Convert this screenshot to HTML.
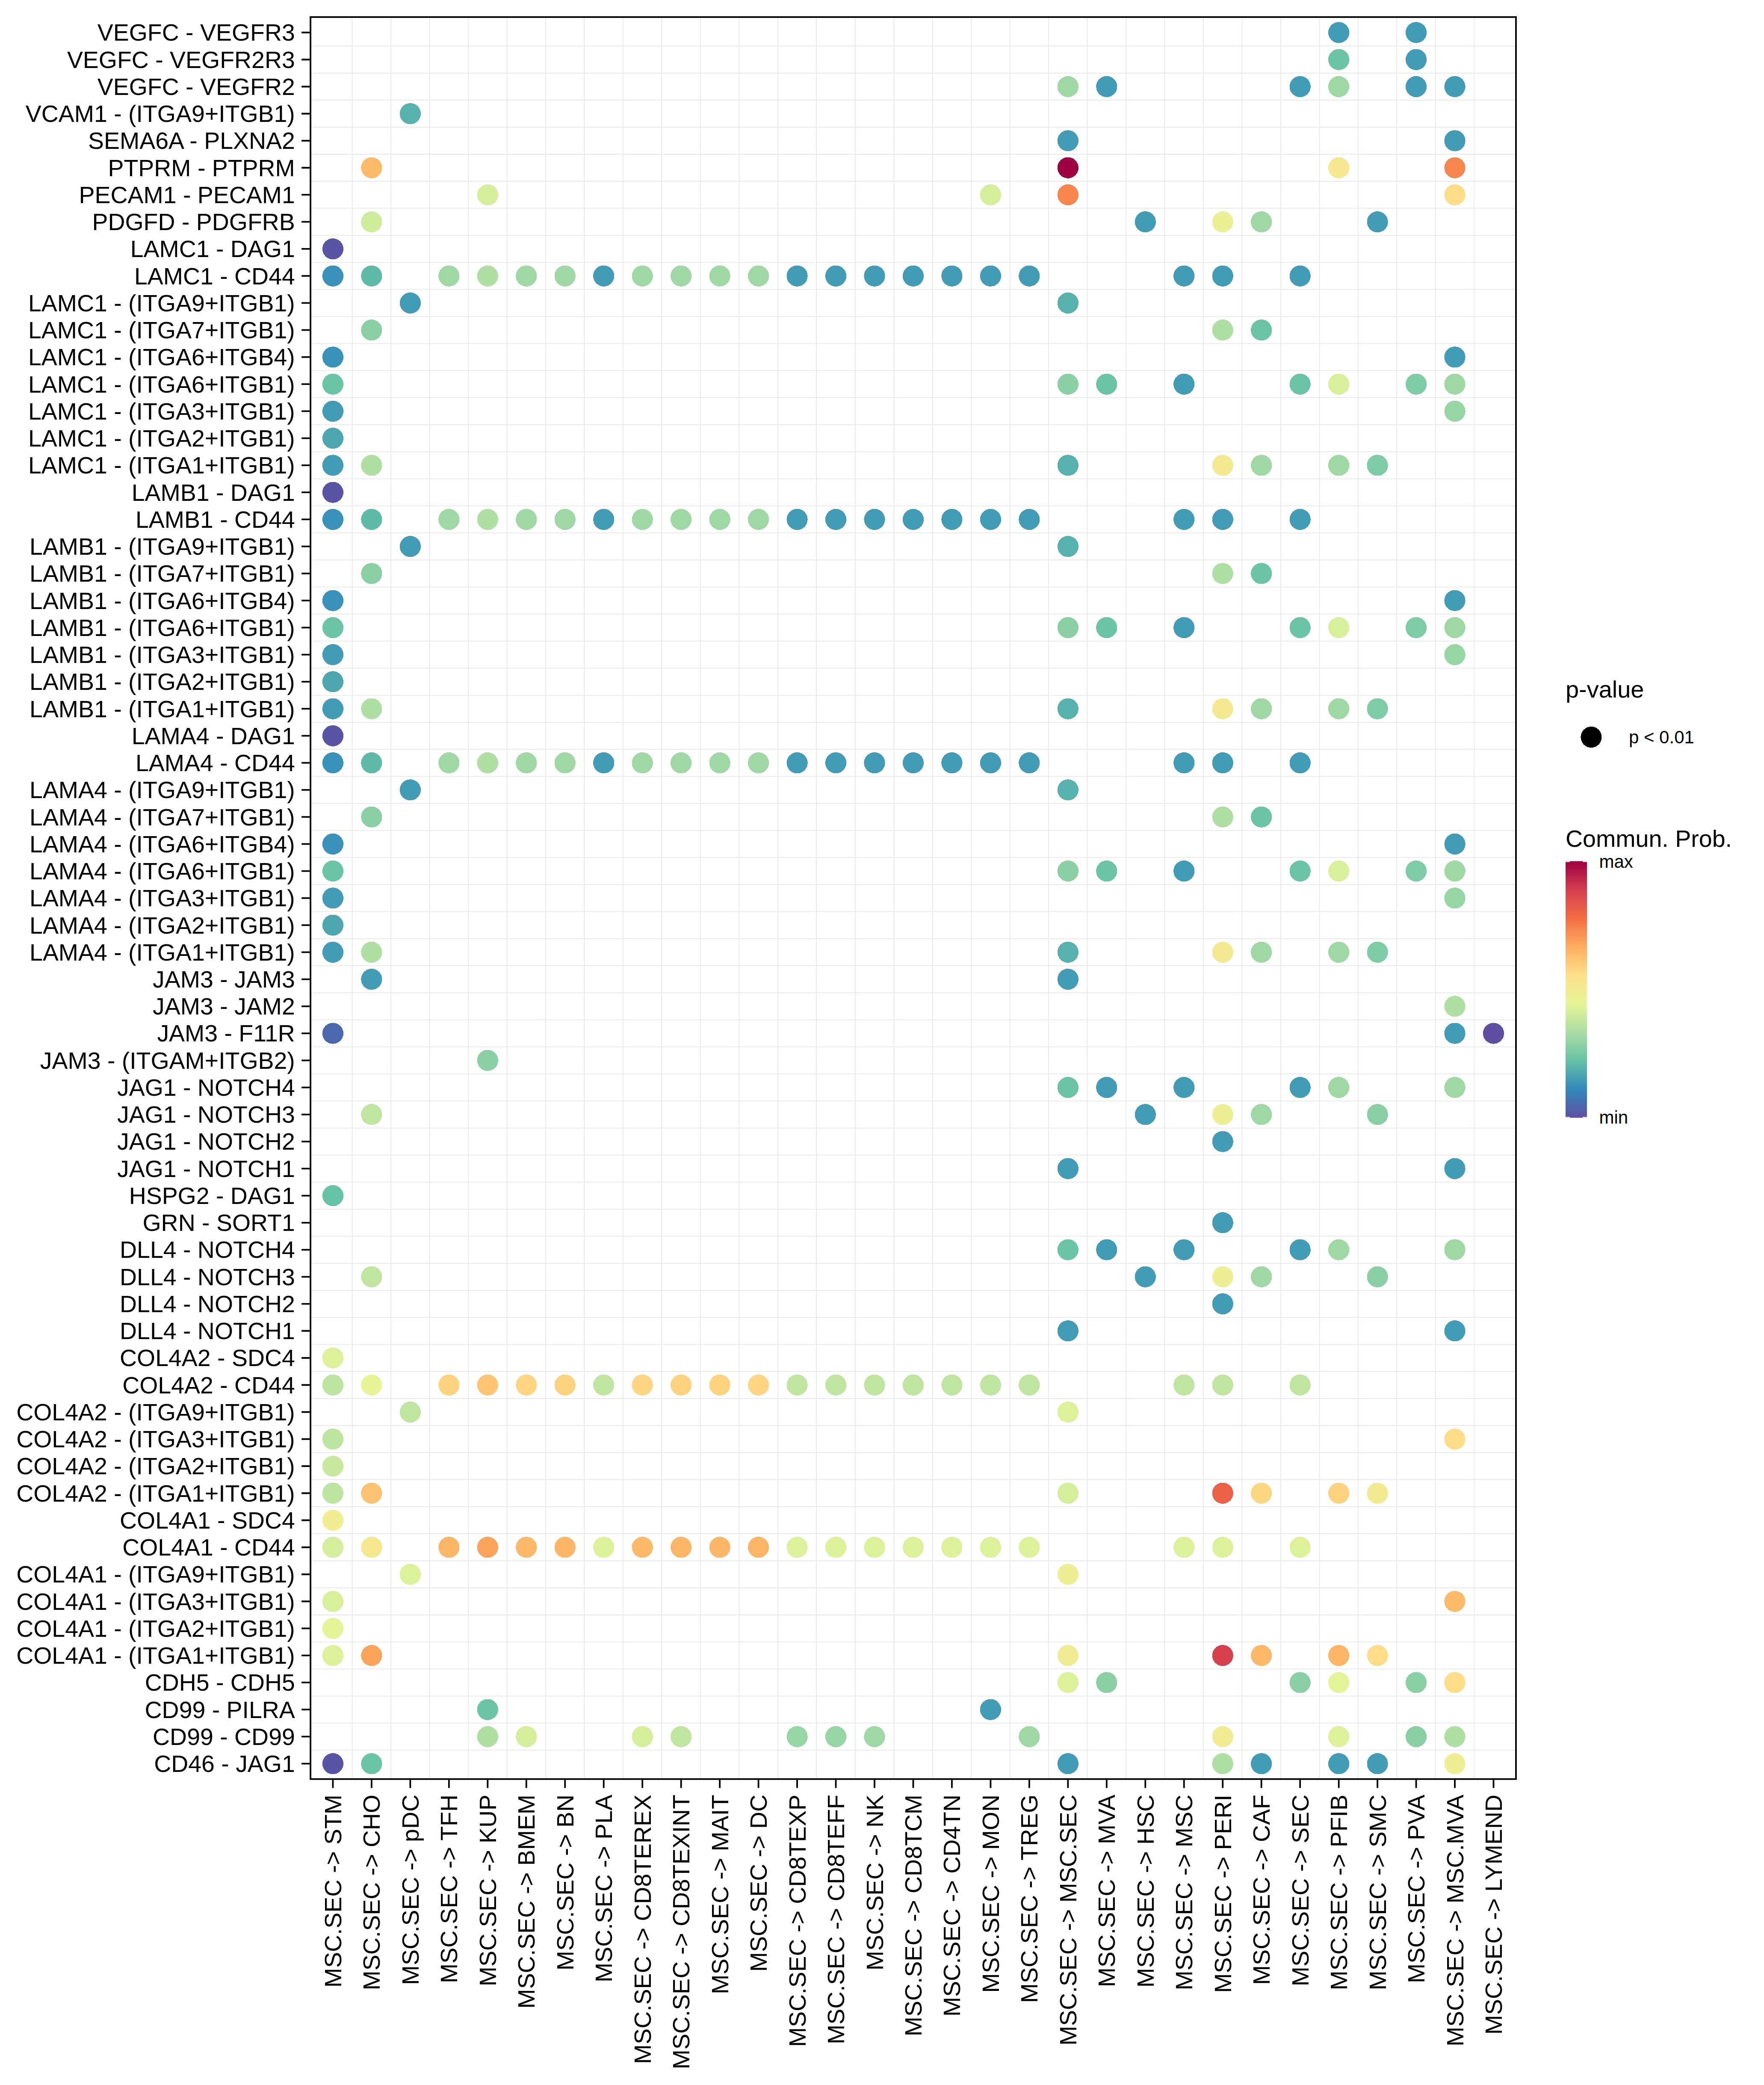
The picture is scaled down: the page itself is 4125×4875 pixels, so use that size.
<!DOCTYPE html>
<html><head><meta charset="utf-8"><title>Bubble plot</title>
<style>html,body{margin:0;padding:0;background:#fff}svg{display:block}text{font-family:"Liberation Sans",Arial,Helvetica,sans-serif;fill:#000}</style></head><body>
<svg width="4125" height="4875" viewBox="0 0 4125 4875">
<rect x="0" y="0" width="4125" height="4875" fill="#fff"/>
<path d="M823.68 39.9V4159.7M914.15 39.9V4159.7M1004.62 39.9V4159.7M1095.09 39.9V4159.7M1185.56 39.9V4159.7M1276.03 39.9V4159.7M1366.49 39.9V4159.7M1456.96 39.9V4159.7M1547.43 39.9V4159.7M1637.90 39.9V4159.7M1728.37 39.9V4159.7M1818.84 39.9V4159.7M1909.30 39.9V4159.7M1999.77 39.9V4159.7M2090.24 39.9V4159.7M2180.71 39.9V4159.7M2271.18 39.9V4159.7M2361.65 39.9V4159.7M2452.11 39.9V4159.7M2542.58 39.9V4159.7M2633.05 39.9V4159.7M2723.52 39.9V4159.7M2813.99 39.9V4159.7M2904.46 39.9V4159.7M2994.92 39.9V4159.7M3085.39 39.9V4159.7M3175.86 39.9V4159.7M3266.33 39.9V4159.7M3356.80 39.9V4159.7M3447.27 39.9V4159.7M726.1 107.62H3545.0M726.1 170.87H3545.0M726.1 234.11H3545.0M726.1 297.36H3545.0M726.1 360.60H3545.0M726.1 423.85H3545.0M726.1 487.09H3545.0M726.1 550.34H3545.0M726.1 613.59H3545.0M726.1 676.83H3545.0M726.1 740.08H3545.0M726.1 803.32H3545.0M726.1 866.57H3545.0M726.1 929.81H3545.0M726.1 993.06H3545.0M726.1 1056.30H3545.0M726.1 1119.55H3545.0M726.1 1182.79H3545.0M726.1 1246.04H3545.0M726.1 1309.28H3545.0M726.1 1372.53H3545.0M726.1 1435.77H3545.0M726.1 1499.02H3545.0M726.1 1562.26H3545.0M726.1 1625.51H3545.0M726.1 1688.76H3545.0M726.1 1752.00H3545.0M726.1 1815.25H3545.0M726.1 1878.49H3545.0M726.1 1941.74H3545.0M726.1 2004.98H3545.0M726.1 2068.23H3545.0M726.1 2131.47H3545.0M726.1 2194.72H3545.0M726.1 2257.96H3545.0M726.1 2321.21H3545.0M726.1 2384.45H3545.0M726.1 2447.70H3545.0M726.1 2510.94H3545.0M726.1 2574.19H3545.0M726.1 2637.44H3545.0M726.1 2700.68H3545.0M726.1 2763.93H3545.0M726.1 2827.17H3545.0M726.1 2890.42H3545.0M726.1 2953.66H3545.0M726.1 3016.91H3545.0M726.1 3080.15H3545.0M726.1 3143.40H3545.0M726.1 3206.64H3545.0M726.1 3269.89H3545.0M726.1 3333.13H3545.0M726.1 3396.38H3545.0M726.1 3459.62H3545.0M726.1 3522.87H3545.0M726.1 3586.11H3545.0M726.1 3649.36H3545.0M726.1 3712.61H3545.0M726.1 3775.85H3545.0M726.1 3839.10H3545.0M726.1 3902.34H3545.0M726.1 3965.59H3545.0M726.1 4028.83H3545.0M726.1 4092.08H3545.0" stroke="#E5E5E5" stroke-width="1.55" fill="none"/>
<g shape-rendering="crispEdges">
<circle cx="3130.63" cy="76.00" r="24.6" fill="#439CB5"/>
<circle cx="3311.56" cy="76.00" r="24.6" fill="#439CB5"/>
<circle cx="3130.63" cy="139.25" r="24.6" fill="#6BC4A5"/>
<circle cx="3311.56" cy="139.25" r="24.6" fill="#439CB5"/>
<circle cx="2497.35" cy="202.49" r="24.6" fill="#9FD8A4"/>
<circle cx="2587.82" cy="202.49" r="24.6" fill="#439CB5"/>
<circle cx="3040.16" cy="202.49" r="24.6" fill="#439CB5"/>
<circle cx="3130.63" cy="202.49" r="24.6" fill="#9FD8A4"/>
<circle cx="3311.56" cy="202.49" r="24.6" fill="#439CB5"/>
<circle cx="3402.03" cy="202.49" r="24.6" fill="#439CB5"/>
<circle cx="959.39" cy="265.74" r="24.6" fill="#57B1AC"/>
<circle cx="2497.35" cy="328.98" r="24.6" fill="#439CB5"/>
<circle cx="3402.03" cy="328.98" r="24.6" fill="#439CB5"/>
<circle cx="868.92" cy="392.23" r="24.6" fill="#FDBA6B"/>
<circle cx="2497.35" cy="392.23" r="24.6" fill="#9E0142"/>
<circle cx="3130.63" cy="392.23" r="24.6" fill="#F6E790"/>
<circle cx="3402.03" cy="392.23" r="24.6" fill="#F8874F"/>
<circle cx="1140.32" cy="455.47" r="24.6" fill="#D5EE9C"/>
<circle cx="2316.41" cy="455.47" r="24.6" fill="#D5EE9C"/>
<circle cx="2497.35" cy="455.47" r="24.6" fill="#F8874F"/>
<circle cx="3402.03" cy="455.47" r="24.6" fill="#FEDC88"/>
<circle cx="868.92" cy="518.72" r="24.6" fill="#CFEC9D"/>
<circle cx="2678.28" cy="518.72" r="24.6" fill="#439CB5"/>
<circle cx="2859.22" cy="518.72" r="24.6" fill="#ECF095"/>
<circle cx="2949.69" cy="518.72" r="24.6" fill="#9FD8A4"/>
<circle cx="3221.10" cy="518.72" r="24.6" fill="#439CB5"/>
<circle cx="778.45" cy="581.96" r="24.6" fill="#5A54A4"/>
<circle cx="778.45" cy="645.21" r="24.6" fill="#3A91B9"/>
<circle cx="868.92" cy="645.21" r="24.6" fill="#5FBBA8"/>
<circle cx="1049.86" cy="645.21" r="24.6" fill="#9FD8A4"/>
<circle cx="1140.32" cy="645.21" r="24.6" fill="#B0DFA3"/>
<circle cx="1230.79" cy="645.21" r="24.6" fill="#9FD8A4"/>
<circle cx="1321.26" cy="645.21" r="24.6" fill="#9FD8A4"/>
<circle cx="1411.73" cy="645.21" r="24.6" fill="#439CB5"/>
<circle cx="1502.20" cy="645.21" r="24.6" fill="#9FD8A4"/>
<circle cx="1592.66" cy="645.21" r="24.6" fill="#9FD8A4"/>
<circle cx="1683.13" cy="645.21" r="24.6" fill="#9FD8A4"/>
<circle cx="1773.60" cy="645.21" r="24.6" fill="#9FD8A4"/>
<circle cx="1864.07" cy="645.21" r="24.6" fill="#439CB5"/>
<circle cx="1954.54" cy="645.21" r="24.6" fill="#439CB5"/>
<circle cx="2045.01" cy="645.21" r="24.6" fill="#439CB5"/>
<circle cx="2135.48" cy="645.21" r="24.6" fill="#439CB5"/>
<circle cx="2225.94" cy="645.21" r="24.6" fill="#439CB5"/>
<circle cx="2316.41" cy="645.21" r="24.6" fill="#439CB5"/>
<circle cx="2406.88" cy="645.21" r="24.6" fill="#439CB5"/>
<circle cx="2768.75" cy="645.21" r="24.6" fill="#439CB5"/>
<circle cx="2859.22" cy="645.21" r="24.6" fill="#439CB5"/>
<circle cx="3040.16" cy="645.21" r="24.6" fill="#439CB5"/>
<circle cx="959.39" cy="708.45" r="24.6" fill="#439CB5"/>
<circle cx="2497.35" cy="708.45" r="24.6" fill="#57B1AC"/>
<circle cx="868.92" cy="771.70" r="24.6" fill="#8AD0A4"/>
<circle cx="2859.22" cy="771.70" r="24.6" fill="#B0DFA3"/>
<circle cx="2949.69" cy="771.70" r="24.6" fill="#6BC4A5"/>
<circle cx="778.45" cy="834.94" r="24.6" fill="#3A91B9"/>
<circle cx="3402.03" cy="834.94" r="24.6" fill="#439CB5"/>
<circle cx="778.45" cy="898.19" r="24.6" fill="#6BC4A5"/>
<circle cx="2497.35" cy="898.19" r="24.6" fill="#8AD0A4"/>
<circle cx="2587.82" cy="898.19" r="24.6" fill="#6BC4A5"/>
<circle cx="2768.75" cy="898.19" r="24.6" fill="#439CB5"/>
<circle cx="3040.16" cy="898.19" r="24.6" fill="#6BC4A5"/>
<circle cx="3130.63" cy="898.19" r="24.6" fill="#D8F09B"/>
<circle cx="3311.56" cy="898.19" r="24.6" fill="#7ECCA5"/>
<circle cx="3402.03" cy="898.19" r="24.6" fill="#9FD8A4"/>
<circle cx="778.45" cy="961.43" r="24.6" fill="#439CB5"/>
<circle cx="3402.03" cy="961.43" r="24.6" fill="#96D5A4"/>
<circle cx="778.45" cy="1024.68" r="24.6" fill="#4DA6B0"/>
<circle cx="778.45" cy="1087.92" r="24.6" fill="#439CB5"/>
<circle cx="868.92" cy="1087.92" r="24.6" fill="#B0DFA3"/>
<circle cx="2497.35" cy="1087.92" r="24.6" fill="#57B1AC"/>
<circle cx="2859.22" cy="1087.92" r="24.6" fill="#F4E890"/>
<circle cx="2949.69" cy="1087.92" r="24.6" fill="#9FD8A4"/>
<circle cx="3130.63" cy="1087.92" r="24.6" fill="#9FD8A4"/>
<circle cx="3221.10" cy="1087.92" r="24.6" fill="#7ECCA5"/>
<circle cx="778.45" cy="1151.17" r="24.6" fill="#5A54A4"/>
<circle cx="778.45" cy="1214.42" r="24.6" fill="#3A91B9"/>
<circle cx="868.92" cy="1214.42" r="24.6" fill="#5FBBA8"/>
<circle cx="1049.86" cy="1214.42" r="24.6" fill="#9FD8A4"/>
<circle cx="1140.32" cy="1214.42" r="24.6" fill="#B0DFA3"/>
<circle cx="1230.79" cy="1214.42" r="24.6" fill="#9FD8A4"/>
<circle cx="1321.26" cy="1214.42" r="24.6" fill="#9FD8A4"/>
<circle cx="1411.73" cy="1214.42" r="24.6" fill="#439CB5"/>
<circle cx="1502.20" cy="1214.42" r="24.6" fill="#9FD8A4"/>
<circle cx="1592.66" cy="1214.42" r="24.6" fill="#9FD8A4"/>
<circle cx="1683.13" cy="1214.42" r="24.6" fill="#9FD8A4"/>
<circle cx="1773.60" cy="1214.42" r="24.6" fill="#9FD8A4"/>
<circle cx="1864.07" cy="1214.42" r="24.6" fill="#439CB5"/>
<circle cx="1954.54" cy="1214.42" r="24.6" fill="#439CB5"/>
<circle cx="2045.01" cy="1214.42" r="24.6" fill="#439CB5"/>
<circle cx="2135.48" cy="1214.42" r="24.6" fill="#439CB5"/>
<circle cx="2225.94" cy="1214.42" r="24.6" fill="#439CB5"/>
<circle cx="2316.41" cy="1214.42" r="24.6" fill="#439CB5"/>
<circle cx="2406.88" cy="1214.42" r="24.6" fill="#439CB5"/>
<circle cx="2768.75" cy="1214.42" r="24.6" fill="#439CB5"/>
<circle cx="2859.22" cy="1214.42" r="24.6" fill="#439CB5"/>
<circle cx="3040.16" cy="1214.42" r="24.6" fill="#439CB5"/>
<circle cx="959.39" cy="1277.66" r="24.6" fill="#439CB5"/>
<circle cx="2497.35" cy="1277.66" r="24.6" fill="#57B1AC"/>
<circle cx="868.92" cy="1340.91" r="24.6" fill="#8AD0A4"/>
<circle cx="2859.22" cy="1340.91" r="24.6" fill="#B0DFA3"/>
<circle cx="2949.69" cy="1340.91" r="24.6" fill="#6BC4A5"/>
<circle cx="778.45" cy="1404.15" r="24.6" fill="#3A91B9"/>
<circle cx="3402.03" cy="1404.15" r="24.6" fill="#439CB5"/>
<circle cx="778.45" cy="1467.40" r="24.6" fill="#6BC4A5"/>
<circle cx="2497.35" cy="1467.40" r="24.6" fill="#8AD0A4"/>
<circle cx="2587.82" cy="1467.40" r="24.6" fill="#6BC4A5"/>
<circle cx="2768.75" cy="1467.40" r="24.6" fill="#439CB5"/>
<circle cx="3040.16" cy="1467.40" r="24.6" fill="#6BC4A5"/>
<circle cx="3130.63" cy="1467.40" r="24.6" fill="#D8F09B"/>
<circle cx="3311.56" cy="1467.40" r="24.6" fill="#7ECCA5"/>
<circle cx="3402.03" cy="1467.40" r="24.6" fill="#9FD8A4"/>
<circle cx="778.45" cy="1530.64" r="24.6" fill="#439CB5"/>
<circle cx="3402.03" cy="1530.64" r="24.6" fill="#96D5A4"/>
<circle cx="778.45" cy="1593.89" r="24.6" fill="#4DA6B0"/>
<circle cx="778.45" cy="1657.13" r="24.6" fill="#439CB5"/>
<circle cx="868.92" cy="1657.13" r="24.6" fill="#B0DFA3"/>
<circle cx="2497.35" cy="1657.13" r="24.6" fill="#57B1AC"/>
<circle cx="2859.22" cy="1657.13" r="24.6" fill="#F4E890"/>
<circle cx="2949.69" cy="1657.13" r="24.6" fill="#9FD8A4"/>
<circle cx="3130.63" cy="1657.13" r="24.6" fill="#9FD8A4"/>
<circle cx="3221.10" cy="1657.13" r="24.6" fill="#7ECCA5"/>
<circle cx="778.45" cy="1720.38" r="24.6" fill="#5A54A4"/>
<circle cx="778.45" cy="1783.62" r="24.6" fill="#3A91B9"/>
<circle cx="868.92" cy="1783.62" r="24.6" fill="#5FBBA8"/>
<circle cx="1049.86" cy="1783.62" r="24.6" fill="#9FD8A4"/>
<circle cx="1140.32" cy="1783.62" r="24.6" fill="#B0DFA3"/>
<circle cx="1230.79" cy="1783.62" r="24.6" fill="#9FD8A4"/>
<circle cx="1321.26" cy="1783.62" r="24.6" fill="#9FD8A4"/>
<circle cx="1411.73" cy="1783.62" r="24.6" fill="#439CB5"/>
<circle cx="1502.20" cy="1783.62" r="24.6" fill="#9FD8A4"/>
<circle cx="1592.66" cy="1783.62" r="24.6" fill="#9FD8A4"/>
<circle cx="1683.13" cy="1783.62" r="24.6" fill="#9FD8A4"/>
<circle cx="1773.60" cy="1783.62" r="24.6" fill="#9FD8A4"/>
<circle cx="1864.07" cy="1783.62" r="24.6" fill="#439CB5"/>
<circle cx="1954.54" cy="1783.62" r="24.6" fill="#439CB5"/>
<circle cx="2045.01" cy="1783.62" r="24.6" fill="#439CB5"/>
<circle cx="2135.48" cy="1783.62" r="24.6" fill="#439CB5"/>
<circle cx="2225.94" cy="1783.62" r="24.6" fill="#439CB5"/>
<circle cx="2316.41" cy="1783.62" r="24.6" fill="#439CB5"/>
<circle cx="2406.88" cy="1783.62" r="24.6" fill="#439CB5"/>
<circle cx="2768.75" cy="1783.62" r="24.6" fill="#439CB5"/>
<circle cx="2859.22" cy="1783.62" r="24.6" fill="#439CB5"/>
<circle cx="3040.16" cy="1783.62" r="24.6" fill="#439CB5"/>
<circle cx="959.39" cy="1846.87" r="24.6" fill="#439CB5"/>
<circle cx="2497.35" cy="1846.87" r="24.6" fill="#57B1AC"/>
<circle cx="868.92" cy="1910.11" r="24.6" fill="#8AD0A4"/>
<circle cx="2859.22" cy="1910.11" r="24.6" fill="#B0DFA3"/>
<circle cx="2949.69" cy="1910.11" r="24.6" fill="#6BC4A5"/>
<circle cx="778.45" cy="1973.36" r="24.6" fill="#3A91B9"/>
<circle cx="3402.03" cy="1973.36" r="24.6" fill="#439CB5"/>
<circle cx="778.45" cy="2036.60" r="24.6" fill="#6BC4A5"/>
<circle cx="2497.35" cy="2036.60" r="24.6" fill="#8AD0A4"/>
<circle cx="2587.82" cy="2036.60" r="24.6" fill="#6BC4A5"/>
<circle cx="2768.75" cy="2036.60" r="24.6" fill="#439CB5"/>
<circle cx="3040.16" cy="2036.60" r="24.6" fill="#6BC4A5"/>
<circle cx="3130.63" cy="2036.60" r="24.6" fill="#D8F09B"/>
<circle cx="3311.56" cy="2036.60" r="24.6" fill="#7ECCA5"/>
<circle cx="3402.03" cy="2036.60" r="24.6" fill="#9FD8A4"/>
<circle cx="778.45" cy="2099.85" r="24.6" fill="#439CB5"/>
<circle cx="3402.03" cy="2099.85" r="24.6" fill="#96D5A4"/>
<circle cx="778.45" cy="2163.10" r="24.6" fill="#4DA6B0"/>
<circle cx="778.45" cy="2226.34" r="24.6" fill="#439CB5"/>
<circle cx="868.92" cy="2226.34" r="24.6" fill="#B0DFA3"/>
<circle cx="2497.35" cy="2226.34" r="24.6" fill="#57B1AC"/>
<circle cx="2859.22" cy="2226.34" r="24.6" fill="#F4E890"/>
<circle cx="2949.69" cy="2226.34" r="24.6" fill="#9FD8A4"/>
<circle cx="3130.63" cy="2226.34" r="24.6" fill="#9FD8A4"/>
<circle cx="3221.10" cy="2226.34" r="24.6" fill="#7ECCA5"/>
<circle cx="868.92" cy="2289.59" r="24.6" fill="#439CB5"/>
<circle cx="2497.35" cy="2289.59" r="24.6" fill="#439CB5"/>
<circle cx="3402.03" cy="2352.83" r="24.6" fill="#B0DFA3"/>
<circle cx="778.45" cy="2416.08" r="24.6" fill="#4B67AE"/>
<circle cx="3402.03" cy="2416.08" r="24.6" fill="#439CB5"/>
<circle cx="3492.50" cy="2416.08" r="24.6" fill="#5E4FA2"/>
<circle cx="1140.32" cy="2479.32" r="24.6" fill="#8AD0A4"/>
<circle cx="2497.35" cy="2542.57" r="24.6" fill="#6BC4A5"/>
<circle cx="2587.82" cy="2542.57" r="24.6" fill="#439CB5"/>
<circle cx="2768.75" cy="2542.57" r="24.6" fill="#439CB5"/>
<circle cx="3040.16" cy="2542.57" r="24.6" fill="#439CB5"/>
<circle cx="3130.63" cy="2542.57" r="24.6" fill="#9FD8A4"/>
<circle cx="3402.03" cy="2542.57" r="24.6" fill="#9FD8A4"/>
<circle cx="868.92" cy="2605.81" r="24.6" fill="#C0E5A0"/>
<circle cx="2678.28" cy="2605.81" r="24.6" fill="#439CB5"/>
<circle cx="2859.22" cy="2605.81" r="24.6" fill="#EEEE94"/>
<circle cx="2949.69" cy="2605.81" r="24.6" fill="#9FD8A4"/>
<circle cx="3221.10" cy="2605.81" r="24.6" fill="#8AD0A4"/>
<circle cx="2859.22" cy="2669.06" r="24.6" fill="#439CB5"/>
<circle cx="2497.35" cy="2732.30" r="24.6" fill="#439CB5"/>
<circle cx="3402.03" cy="2732.30" r="24.6" fill="#439CB5"/>
<circle cx="778.45" cy="2795.55" r="24.6" fill="#67C3A5"/>
<circle cx="2859.22" cy="2858.79" r="24.6" fill="#439CB5"/>
<circle cx="2497.35" cy="2922.04" r="24.6" fill="#6BC4A5"/>
<circle cx="2587.82" cy="2922.04" r="24.6" fill="#439CB5"/>
<circle cx="2768.75" cy="2922.04" r="24.6" fill="#439CB5"/>
<circle cx="3040.16" cy="2922.04" r="24.6" fill="#439CB5"/>
<circle cx="3130.63" cy="2922.04" r="24.6" fill="#9FD8A4"/>
<circle cx="3402.03" cy="2922.04" r="24.6" fill="#9FD8A4"/>
<circle cx="868.92" cy="2985.28" r="24.6" fill="#C0E5A0"/>
<circle cx="2678.28" cy="2985.28" r="24.6" fill="#439CB5"/>
<circle cx="2859.22" cy="2985.28" r="24.6" fill="#EEEE94"/>
<circle cx="2949.69" cy="2985.28" r="24.6" fill="#9FD8A4"/>
<circle cx="3221.10" cy="2985.28" r="24.6" fill="#8AD0A4"/>
<circle cx="2859.22" cy="3048.53" r="24.6" fill="#439CB5"/>
<circle cx="2497.35" cy="3111.77" r="24.6" fill="#439CB5"/>
<circle cx="3402.03" cy="3111.77" r="24.6" fill="#439CB5"/>
<circle cx="778.45" cy="3175.02" r="24.6" fill="#DCF19A"/>
<circle cx="778.45" cy="3238.27" r="24.6" fill="#BDE4A0"/>
<circle cx="868.92" cy="3238.27" r="24.6" fill="#E7F498"/>
<circle cx="1049.86" cy="3238.27" r="24.6" fill="#FED380"/>
<circle cx="1140.32" cy="3238.27" r="24.6" fill="#FDC574"/>
<circle cx="1230.79" cy="3238.27" r="24.6" fill="#FED683"/>
<circle cx="1321.26" cy="3238.27" r="24.6" fill="#FED380"/>
<circle cx="1411.73" cy="3238.27" r="24.6" fill="#C0E5A0"/>
<circle cx="1502.20" cy="3238.27" r="24.6" fill="#FED683"/>
<circle cx="1592.66" cy="3238.27" r="24.6" fill="#FED380"/>
<circle cx="1683.13" cy="3238.27" r="24.6" fill="#FED380"/>
<circle cx="1773.60" cy="3238.27" r="24.6" fill="#FED683"/>
<circle cx="1864.07" cy="3238.27" r="24.6" fill="#C0E5A0"/>
<circle cx="1954.54" cy="3238.27" r="24.6" fill="#C0E5A0"/>
<circle cx="2045.01" cy="3238.27" r="24.6" fill="#C0E5A0"/>
<circle cx="2135.48" cy="3238.27" r="24.6" fill="#C0E5A0"/>
<circle cx="2225.94" cy="3238.27" r="24.6" fill="#C0E5A0"/>
<circle cx="2316.41" cy="3238.27" r="24.6" fill="#C0E5A0"/>
<circle cx="2406.88" cy="3238.27" r="24.6" fill="#C0E5A0"/>
<circle cx="2768.75" cy="3238.27" r="24.6" fill="#C0E5A0"/>
<circle cx="2859.22" cy="3238.27" r="24.6" fill="#C0E5A0"/>
<circle cx="3040.16" cy="3238.27" r="24.6" fill="#C0E5A0"/>
<circle cx="959.39" cy="3301.51" r="24.6" fill="#C0E5A0"/>
<circle cx="2497.35" cy="3301.51" r="24.6" fill="#DCF19A"/>
<circle cx="778.45" cy="3364.76" r="24.6" fill="#BDE4A0"/>
<circle cx="3402.03" cy="3364.76" r="24.6" fill="#FEDC88"/>
<circle cx="778.45" cy="3428.00" r="24.6" fill="#C9E99E"/>
<circle cx="778.45" cy="3491.25" r="24.6" fill="#BDE4A0"/>
<circle cx="868.92" cy="3491.25" r="24.6" fill="#FDC373"/>
<circle cx="2497.35" cy="3491.25" r="24.6" fill="#D5EE9C"/>
<circle cx="2859.22" cy="3491.25" r="24.6" fill="#EC6046"/>
<circle cx="2949.69" cy="3491.25" r="24.6" fill="#FED783"/>
<circle cx="3130.63" cy="3491.25" r="24.6" fill="#FED27F"/>
<circle cx="3221.10" cy="3491.25" r="24.6" fill="#F2EA91"/>
<circle cx="778.45" cy="3554.49" r="24.6" fill="#F0ED93"/>
<circle cx="778.45" cy="3617.74" r="24.6" fill="#D5EE9C"/>
<circle cx="868.92" cy="3617.74" r="24.6" fill="#F6E78F"/>
<circle cx="1049.86" cy="3617.74" r="24.6" fill="#FDB567"/>
<circle cx="1140.32" cy="3617.74" r="24.6" fill="#FCA45C"/>
<circle cx="1230.79" cy="3617.74" r="24.6" fill="#FDB869"/>
<circle cx="1321.26" cy="3617.74" r="24.6" fill="#FDB567"/>
<circle cx="1411.73" cy="3617.74" r="24.6" fill="#DCF19A"/>
<circle cx="1502.20" cy="3617.74" r="24.6" fill="#FDB869"/>
<circle cx="1592.66" cy="3617.74" r="24.6" fill="#FDB567"/>
<circle cx="1683.13" cy="3617.74" r="24.6" fill="#FDB567"/>
<circle cx="1773.60" cy="3617.74" r="24.6" fill="#FDB567"/>
<circle cx="1864.07" cy="3617.74" r="24.6" fill="#DCF19A"/>
<circle cx="1954.54" cy="3617.74" r="24.6" fill="#DCF19A"/>
<circle cx="2045.01" cy="3617.74" r="24.6" fill="#DCF19A"/>
<circle cx="2135.48" cy="3617.74" r="24.6" fill="#DCF19A"/>
<circle cx="2225.94" cy="3617.74" r="24.6" fill="#DCF19A"/>
<circle cx="2316.41" cy="3617.74" r="24.6" fill="#DCF19A"/>
<circle cx="2406.88" cy="3617.74" r="24.6" fill="#DCF19A"/>
<circle cx="2768.75" cy="3617.74" r="24.6" fill="#DCF19A"/>
<circle cx="2859.22" cy="3617.74" r="24.6" fill="#DCF19A"/>
<circle cx="3040.16" cy="3617.74" r="24.6" fill="#DCF19A"/>
<circle cx="959.39" cy="3680.98" r="24.6" fill="#DCF19A"/>
<circle cx="2497.35" cy="3680.98" r="24.6" fill="#EEEE94"/>
<circle cx="778.45" cy="3744.23" r="24.6" fill="#D8F09B"/>
<circle cx="3402.03" cy="3744.23" r="24.6" fill="#FDBA6B"/>
<circle cx="778.45" cy="3807.47" r="24.6" fill="#E5F498"/>
<circle cx="778.45" cy="3870.72" r="24.6" fill="#DCF19A"/>
<circle cx="868.92" cy="3870.72" r="24.6" fill="#FCA45C"/>
<circle cx="2497.35" cy="3870.72" r="24.6" fill="#F0EC93"/>
<circle cx="2859.22" cy="3870.72" r="24.6" fill="#D7414E"/>
<circle cx="2949.69" cy="3870.72" r="24.6" fill="#FDB869"/>
<circle cx="3130.63" cy="3870.72" r="24.6" fill="#FDB567"/>
<circle cx="3221.10" cy="3870.72" r="24.6" fill="#FEDC88"/>
<circle cx="2497.35" cy="3933.96" r="24.6" fill="#DCF19A"/>
<circle cx="2587.82" cy="3933.96" r="24.6" fill="#8AD0A4"/>
<circle cx="3040.16" cy="3933.96" r="24.6" fill="#8AD0A4"/>
<circle cx="3130.63" cy="3933.96" r="24.6" fill="#E4F498"/>
<circle cx="3311.56" cy="3933.96" r="24.6" fill="#8AD0A4"/>
<circle cx="3402.03" cy="3933.96" r="24.6" fill="#FEDC88"/>
<circle cx="1140.32" cy="3997.21" r="24.6" fill="#6BC4A5"/>
<circle cx="2316.41" cy="3997.21" r="24.6" fill="#439CB5"/>
<circle cx="1140.32" cy="4060.45" r="24.6" fill="#B0DFA3"/>
<circle cx="1230.79" cy="4060.45" r="24.6" fill="#D5EE9C"/>
<circle cx="1502.20" cy="4060.45" r="24.6" fill="#D5EE9C"/>
<circle cx="1592.66" cy="4060.45" r="24.6" fill="#C0E5A0"/>
<circle cx="1864.07" cy="4060.45" r="24.6" fill="#96D5A4"/>
<circle cx="1954.54" cy="4060.45" r="24.6" fill="#96D5A4"/>
<circle cx="2045.01" cy="4060.45" r="24.6" fill="#9FD8A4"/>
<circle cx="2406.88" cy="4060.45" r="24.6" fill="#9FD8A4"/>
<circle cx="2859.22" cy="4060.45" r="24.6" fill="#F0EC93"/>
<circle cx="3130.63" cy="4060.45" r="24.6" fill="#DCF19A"/>
<circle cx="3311.56" cy="4060.45" r="24.6" fill="#8AD0A4"/>
<circle cx="3402.03" cy="4060.45" r="24.6" fill="#B0DFA3"/>
<circle cx="778.45" cy="4123.70" r="24.6" fill="#5A54A4"/>
<circle cx="868.92" cy="4123.70" r="24.6" fill="#6BC4A5"/>
<circle cx="2497.35" cy="4123.70" r="24.6" fill="#439CB5"/>
<circle cx="2859.22" cy="4123.70" r="24.6" fill="#B0DFA3"/>
<circle cx="2949.69" cy="4123.70" r="24.6" fill="#439CB5"/>
<circle cx="3130.63" cy="4123.70" r="24.6" fill="#439CB5"/>
<circle cx="3221.10" cy="4123.70" r="24.6" fill="#439CB5"/>
<circle cx="3402.03" cy="4123.70" r="24.6" fill="#EEEE94"/>
</g>
<rect x="726.1" y="39.9" width="2818.9" height="4119.8" fill="none" stroke="#000" stroke-width="3.8"/>
<path d="M778.45 4161.6v19M868.92 4161.6v19M959.39 4161.6v19M1049.86 4161.6v19M1140.32 4161.6v19M1230.79 4161.6v19M1321.26 4161.6v19M1411.73 4161.6v19M1502.20 4161.6v19M1592.66 4161.6v19M1683.13 4161.6v19M1773.60 4161.6v19M1864.07 4161.6v19M1954.54 4161.6v19M2045.01 4161.6v19M2135.48 4161.6v19M2225.94 4161.6v19M2316.41 4161.6v19M2406.88 4161.6v19M2497.35 4161.6v19M2587.82 4161.6v19M2678.28 4161.6v19M2768.75 4161.6v19M2859.22 4161.6v19M2949.69 4161.6v19M3040.16 4161.6v19M3130.63 4161.6v19M3221.10 4161.6v19M3311.56 4161.6v19M3402.03 4161.6v19M3492.50 4161.6v19M724.2 76.00h-19M724.2 139.25h-19M724.2 202.49h-19M724.2 265.74h-19M724.2 328.98h-19M724.2 392.23h-19M724.2 455.47h-19M724.2 518.72h-19M724.2 581.96h-19M724.2 645.21h-19M724.2 708.45h-19M724.2 771.70h-19M724.2 834.94h-19M724.2 898.19h-19M724.2 961.43h-19M724.2 1024.68h-19M724.2 1087.92h-19M724.2 1151.17h-19M724.2 1214.42h-19M724.2 1277.66h-19M724.2 1340.91h-19M724.2 1404.15h-19M724.2 1467.40h-19M724.2 1530.64h-19M724.2 1593.89h-19M724.2 1657.13h-19M724.2 1720.38h-19M724.2 1783.62h-19M724.2 1846.87h-19M724.2 1910.11h-19M724.2 1973.36h-19M724.2 2036.60h-19M724.2 2099.85h-19M724.2 2163.10h-19M724.2 2226.34h-19M724.2 2289.59h-19M724.2 2352.83h-19M724.2 2416.08h-19M724.2 2479.32h-19M724.2 2542.57h-19M724.2 2605.81h-19M724.2 2669.06h-19M724.2 2732.30h-19M724.2 2795.55h-19M724.2 2858.79h-19M724.2 2922.04h-19M724.2 2985.28h-19M724.2 3048.53h-19M724.2 3111.77h-19M724.2 3175.02h-19M724.2 3238.27h-19M724.2 3301.51h-19M724.2 3364.76h-19M724.2 3428.00h-19M724.2 3491.25h-19M724.2 3554.49h-19M724.2 3617.74h-19M724.2 3680.98h-19M724.2 3744.23h-19M724.2 3807.47h-19M724.2 3870.72h-19M724.2 3933.96h-19M724.2 3997.21h-19M724.2 4060.45h-19M724.2 4123.70h-19" stroke="#000" stroke-width="3.8" fill="none"/>
<g font-size="55.45" text-anchor="end">
<text x="689.8" y="95.40">VEGFC - VEGFR3</text>
<text x="689.8" y="158.65">VEGFC - VEGFR2R3</text>
<text x="689.8" y="221.89">VEGFC - VEGFR2</text>
<text x="689.8" y="285.14">VCAM1 - (ITGA9+ITGB1)</text>
<text x="689.8" y="348.38">SEMA6A - PLXNA2</text>
<text x="689.8" y="411.63">PTPRM - PTPRM</text>
<text x="689.8" y="474.87">PECAM1 - PECAM1</text>
<text x="689.8" y="538.12">PDGFD - PDGFRB</text>
<text x="689.8" y="601.36">LAMC1 - DAG1</text>
<text x="689.8" y="664.61">LAMC1 - CD44</text>
<text x="689.8" y="727.85">LAMC1 - (ITGA9+ITGB1)</text>
<text x="689.8" y="791.10">LAMC1 - (ITGA7+ITGB1)</text>
<text x="689.8" y="854.34">LAMC1 - (ITGA6+ITGB4)</text>
<text x="689.8" y="917.59">LAMC1 - (ITGA6+ITGB1)</text>
<text x="689.8" y="980.83">LAMC1 - (ITGA3+ITGB1)</text>
<text x="689.8" y="1044.08">LAMC1 - (ITGA2+ITGB1)</text>
<text x="689.8" y="1107.33">LAMC1 - (ITGA1+ITGB1)</text>
<text x="689.8" y="1170.57">LAMB1 - DAG1</text>
<text x="689.8" y="1233.82">LAMB1 - CD44</text>
<text x="689.8" y="1297.06">LAMB1 - (ITGA9+ITGB1)</text>
<text x="689.8" y="1360.31">LAMB1 - (ITGA7+ITGB1)</text>
<text x="689.8" y="1423.55">LAMB1 - (ITGA6+ITGB4)</text>
<text x="689.8" y="1486.80">LAMB1 - (ITGA6+ITGB1)</text>
<text x="689.8" y="1550.04">LAMB1 - (ITGA3+ITGB1)</text>
<text x="689.8" y="1613.29">LAMB1 - (ITGA2+ITGB1)</text>
<text x="689.8" y="1676.53">LAMB1 - (ITGA1+ITGB1)</text>
<text x="689.8" y="1739.78">LAMA4 - DAG1</text>
<text x="689.8" y="1803.02">LAMA4 - CD44</text>
<text x="689.8" y="1866.27">LAMA4 - (ITGA9+ITGB1)</text>
<text x="689.8" y="1929.51">LAMA4 - (ITGA7+ITGB1)</text>
<text x="689.8" y="1992.76">LAMA4 - (ITGA6+ITGB4)</text>
<text x="689.8" y="2056.00">LAMA4 - (ITGA6+ITGB1)</text>
<text x="689.8" y="2119.25">LAMA4 - (ITGA3+ITGB1)</text>
<text x="689.8" y="2182.50">LAMA4 - (ITGA2+ITGB1)</text>
<text x="689.8" y="2245.74">LAMA4 - (ITGA1+ITGB1)</text>
<text x="689.8" y="2308.99">JAM3 - JAM3</text>
<text x="689.8" y="2372.23">JAM3 - JAM2</text>
<text x="689.8" y="2435.48">JAM3 - F11R</text>
<text x="689.8" y="2498.72">JAM3 - (ITGAM+ITGB2)</text>
<text x="689.8" y="2561.97">JAG1 - NOTCH4</text>
<text x="689.8" y="2625.21">JAG1 - NOTCH3</text>
<text x="689.8" y="2688.46">JAG1 - NOTCH2</text>
<text x="689.8" y="2751.70">JAG1 - NOTCH1</text>
<text x="689.8" y="2814.95">HSPG2 - DAG1</text>
<text x="689.8" y="2878.19">GRN - SORT1</text>
<text x="689.8" y="2941.44">DLL4 - NOTCH4</text>
<text x="689.8" y="3004.68">DLL4 - NOTCH3</text>
<text x="689.8" y="3067.93">DLL4 - NOTCH2</text>
<text x="689.8" y="3131.17">DLL4 - NOTCH1</text>
<text x="689.8" y="3194.42">COL4A2 - SDC4</text>
<text x="689.8" y="3257.67">COL4A2 - CD44</text>
<text x="689.8" y="3320.91">COL4A2 - (ITGA9+ITGB1)</text>
<text x="689.8" y="3384.16">COL4A2 - (ITGA3+ITGB1)</text>
<text x="689.8" y="3447.40">COL4A2 - (ITGA2+ITGB1)</text>
<text x="689.8" y="3510.65">COL4A2 - (ITGA1+ITGB1)</text>
<text x="689.8" y="3573.89">COL4A1 - SDC4</text>
<text x="689.8" y="3637.14">COL4A1 - CD44</text>
<text x="689.8" y="3700.38">COL4A1 - (ITGA9+ITGB1)</text>
<text x="689.8" y="3763.63">COL4A1 - (ITGA3+ITGB1)</text>
<text x="689.8" y="3826.87">COL4A1 - (ITGA2+ITGB1)</text>
<text x="689.8" y="3890.12">COL4A1 - (ITGA1+ITGB1)</text>
<text x="689.8" y="3953.36">CDH5 - CDH5</text>
<text x="689.8" y="4016.61">CD99 - PILRA</text>
<text x="689.8" y="4079.85">CD99 - CD99</text>
<text x="689.8" y="4143.10">CD46 - JAG1</text>
</g>
<g font-size="55.45" text-anchor="end">
<text transform="translate(797.95 4196.0) rotate(-90)">MSC.SEC -&gt; STM</text>
<text transform="translate(888.42 4196.0) rotate(-90)">MSC.SEC -&gt; CHO</text>
<text transform="translate(978.89 4196.0) rotate(-90)">MSC.SEC -&gt; pDC</text>
<text transform="translate(1069.36 4196.0) rotate(-90)">MSC.SEC -&gt; TFH</text>
<text transform="translate(1159.82 4196.0) rotate(-90)">MSC.SEC -&gt; KUP</text>
<text transform="translate(1250.29 4196.0) rotate(-90)">MSC.SEC -&gt; BMEM</text>
<text transform="translate(1340.76 4196.0) rotate(-90)">MSC.SEC -&gt; BN</text>
<text transform="translate(1431.23 4196.0) rotate(-90)">MSC.SEC -&gt; PLA</text>
<text transform="translate(1521.70 4196.0) rotate(-90)">MSC.SEC -&gt; CD8TEREX</text>
<text transform="translate(1612.16 4196.0) rotate(-90)">MSC.SEC -&gt; CD8TEXINT</text>
<text transform="translate(1702.63 4196.0) rotate(-90)">MSC.SEC -&gt; MAIT</text>
<text transform="translate(1793.10 4196.0) rotate(-90)">MSC.SEC -&gt; DC</text>
<text transform="translate(1883.57 4196.0) rotate(-90)">MSC.SEC -&gt; CD8TEXP</text>
<text transform="translate(1974.04 4196.0) rotate(-90)">MSC.SEC -&gt; CD8TEFF</text>
<text transform="translate(2064.51 4196.0) rotate(-90)">MSC.SEC -&gt; NK</text>
<text transform="translate(2154.98 4196.0) rotate(-90)">MSC.SEC -&gt; CD8TCM</text>
<text transform="translate(2245.44 4196.0) rotate(-90)">MSC.SEC -&gt; CD4TN</text>
<text transform="translate(2335.91 4196.0) rotate(-90)">MSC.SEC -&gt; MON</text>
<text transform="translate(2426.38 4196.0) rotate(-90)">MSC.SEC -&gt; TREG</text>
<text transform="translate(2516.85 4196.0) rotate(-90)">MSC.SEC -&gt; MSC.SEC</text>
<text transform="translate(2607.32 4196.0) rotate(-90)">MSC.SEC -&gt; MVA</text>
<text transform="translate(2697.78 4196.0) rotate(-90)">MSC.SEC -&gt; HSC</text>
<text transform="translate(2788.25 4196.0) rotate(-90)">MSC.SEC -&gt; MSC</text>
<text transform="translate(2878.72 4196.0) rotate(-90)">MSC.SEC -&gt; PERI</text>
<text transform="translate(2969.19 4196.0) rotate(-90)">MSC.SEC -&gt; CAF</text>
<text transform="translate(3059.66 4196.0) rotate(-90)">MSC.SEC -&gt; SEC</text>
<text transform="translate(3150.13 4196.0) rotate(-90)">MSC.SEC -&gt; PFIB</text>
<text transform="translate(3240.60 4196.0) rotate(-90)">MSC.SEC -&gt; SMC</text>
<text transform="translate(3331.06 4196.0) rotate(-90)">MSC.SEC -&gt; PVA</text>
<text transform="translate(3421.53 4196.0) rotate(-90)">MSC.SEC -&gt; MSC.MVA</text>
<text transform="translate(3512.00 4196.0) rotate(-90)">MSC.SEC -&gt; LYMEND</text>
</g>
<text x="3661" y="1630.9" font-size="55.95">p-value</text>
<circle cx="3721" cy="1723.5" r="24.6" fill="#000" shape-rendering="crispEdges"/>
<text x="3808.9" y="1738.2" font-size="42.0">p &lt; 0.01</text>
<text x="3661" y="1980.3" font-size="55.56">Commun. Prob.</text>
<defs><linearGradient id="sp" x1="0" y1="0" x2="0" y2="1"><stop offset="0.000%" stop-color="#9E0142"/><stop offset="11.111%" stop-color="#D53E4F"/><stop offset="22.222%" stop-color="#F46D43"/><stop offset="33.333%" stop-color="#FDAE61"/><stop offset="44.444%" stop-color="#FEE08B"/><stop offset="55.556%" stop-color="#E6F598"/><stop offset="66.667%" stop-color="#ABDDA4"/><stop offset="77.778%" stop-color="#66C2A5"/><stop offset="88.889%" stop-color="#3288BD"/><stop offset="100.000%" stop-color="#5E4FA2"/></linearGradient></defs>
<rect x="3661" y="2013.5" width="50" height="600" fill="url(#sp)"/>
<path d="M3661 2014.5h10M3701 2014.5h10M3661 2612.5h10M3701 2612.5h10" stroke="#fff" stroke-width="2" fill="none"/>
<text x="3739.4" y="2029.2" font-size="42.0">max</text>
<text x="3739.4" y="2627.3" font-size="42.0">min</text>
</svg></body></html>
